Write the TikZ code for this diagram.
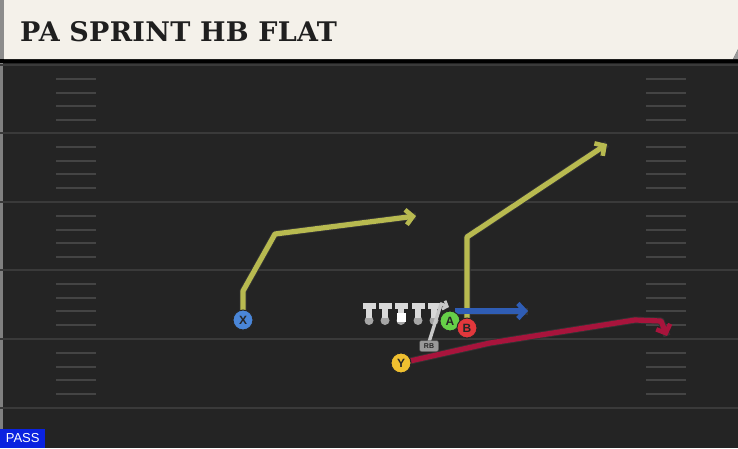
\documentclass[tikz,border=0pt]{standalone}
\usepackage{fontspec}
\setsansfont{Liberation Sans}
\newfontfamily\titlefont{DejaVu Serif}
\usetikzlibrary{arrows.meta}
\definecolor{field}{HTML}{242424}
\definecolor{yardline}{HTML}{3A3A3A}
\definecolor{hashc}{HTML}{444444}
\definecolor{cream}{HTML}{F4F1EA}
\definecolor{routey}{HTML}{B8BA50}
\definecolor{routeb}{HTML}{2F5DB5}
\definecolor{router}{HTML}{A8143C}
\definecolor{passblue}{HTML}{0A22E0}
\tikzset{
  player/.style={circle,draw=black!85,line width=1pt,inner sep=0pt,minimum size=20pt,
     font=\sffamily\bfseries\fontsize{12}{12}\selectfont,text=black!85},
  routeline/.style={line width=5.2pt,line join=round,-{Straight Barb[length=7pt,width=15pt,line width=4.6pt]}},
  under/.style={line width=7pt,black!80,line join=round},
  yard/.style={yardline,line width=2.4pt},
  hashm/.style={hashc,line width=2pt},
}
\begin{document}
\begin{tikzpicture}[x=1pt,y=-1pt]
\useasboundingbox (0,0) rectangle (738,448);
\fill[field] (0,0) rectangle (738,448);
\fill[black!50] (0,60) rectangle (2.5,430);
% yard lines
\foreach \y in {65,133,202,270,339,408} \draw[yard] (0,\y) -- (738,\y);
% hash marks
\foreach \b in {65,133,202,270,339} {
  \foreach \o in {14,27.5,41,55} {
    \draw[hashm] (56,\b+\o) -- (96,\b+\o);
    \draw[hashm] (646,\b+\o) -- (686,\b+\o);
  }
}
% header
\fill[black] (0,57) rectangle (738,63);
\fill[black!45] (0,0) rectangle (4,59);
\fill[cream] (4,0) -- (738,0) -- (738,49) -- (733,59) -- (4,59) -- cycle;
\fill[black!40] (733,59) -- (738,49) -- (738,59) -- cycle;
\node[anchor=west,inner sep=0pt,text=black!88] (title) at (20,32)
  {\titlefont\bfseries\fontsize{27}{27}\selectfont\addfontfeature{LetterSpace=1}PA SPRINT HB FLAT};
% PASS label
\node[fill=passblue,text=white,anchor=south west,inner xsep=3pt,inner ysep=2pt,minimum width=45pt,minimum height=19pt,
  font=\sffamily\fontsize{13}{13}\selectfont] (pass) at (0,448) {PASS};
% linemen
\foreach \x in {369,385,401,418,434} {
  \fill[black!35] (\x,320.5) circle (4.5);
  \fill[black!15] (\x-6.5,303) rectangle (\x+6.5,308.5);
  \fill[black!15] (\x-3,308) rectangle (\x+3,318);
}
\fill[white] (396.5,312.5) rectangle (405.5,322);
% coordinates
\coordinate (x1) at (243,291);
\coordinate (x2) at (275,234);
\coordinate (x3) at (416,216);
\coordinate (b1) at (467,237);
\coordinate (b2) at (607,144);
\coordinate (a1) at (528,311);
\coordinate (a0) at (455,311);
\coordinate (y1) at (490,343);
\coordinate (y2) at (635,320);
\coordinate (y3) at (661,321);
\coordinate (y4) at (667,336);
\coordinate (rb1) at (441,304);
\coordinate (rb2) at (449,307);
% players (positions)
\path (243,320) coordinate (pX) (467,328) coordinate (pB) (450,321) coordinate (pA) (401,363) coordinate (pY);
% routes underlay
\draw[under] (pX) -- (x1) -- (x2) -- (x3);
\draw[under] (pB) -- (b1) -- (b2);
\draw[under] (a0) -- (a1);
\draw[under] (pY) -- (y1) -- (y2) -- (y3) -- (y4);
% routes
\draw[routeline,routey] (pX) -- (x1) -- (x2) -- (x3);
\draw[routeline,routey] (pB) -- (b1) -- (b2);
\draw[routeline,routeb] (a0) -- (a1);
\draw[routeline,router] (pY) -- (y1) -- (y2) -- (y3) -- (y4);
% RB
\draw[black!22,line width=3.4pt,line join=round,-{Straight Barb[length=4pt,width=9pt,line width=2.8pt]}]
  (429,342) -- (rb1) -- (rb2);
\node[fill=black!40,draw=black!70,rounded corners=2pt,inner sep=0pt,minimum width=19pt,minimum height=11pt,
  font=\sffamily\bfseries\fontsize{7}{7}\selectfont,text=black!85] (RB) at (429,346) {RB};
% players
\node[player,fill={rgb,255:red,74;green,134;blue,216}] (X) at (pX) {X};
\node[player,fill={rgb,255:red,102;green,208;blue,72}] (A) at (pA) {A};
\node[player,fill={rgb,255:red,226;green,56;blue,60}] (B) at (pB) {B};
\node[player,fill={rgb,255:red,240;green,192;blue,48}] (Y) at (pY) {Y};
\end{tikzpicture}
\end{document}
